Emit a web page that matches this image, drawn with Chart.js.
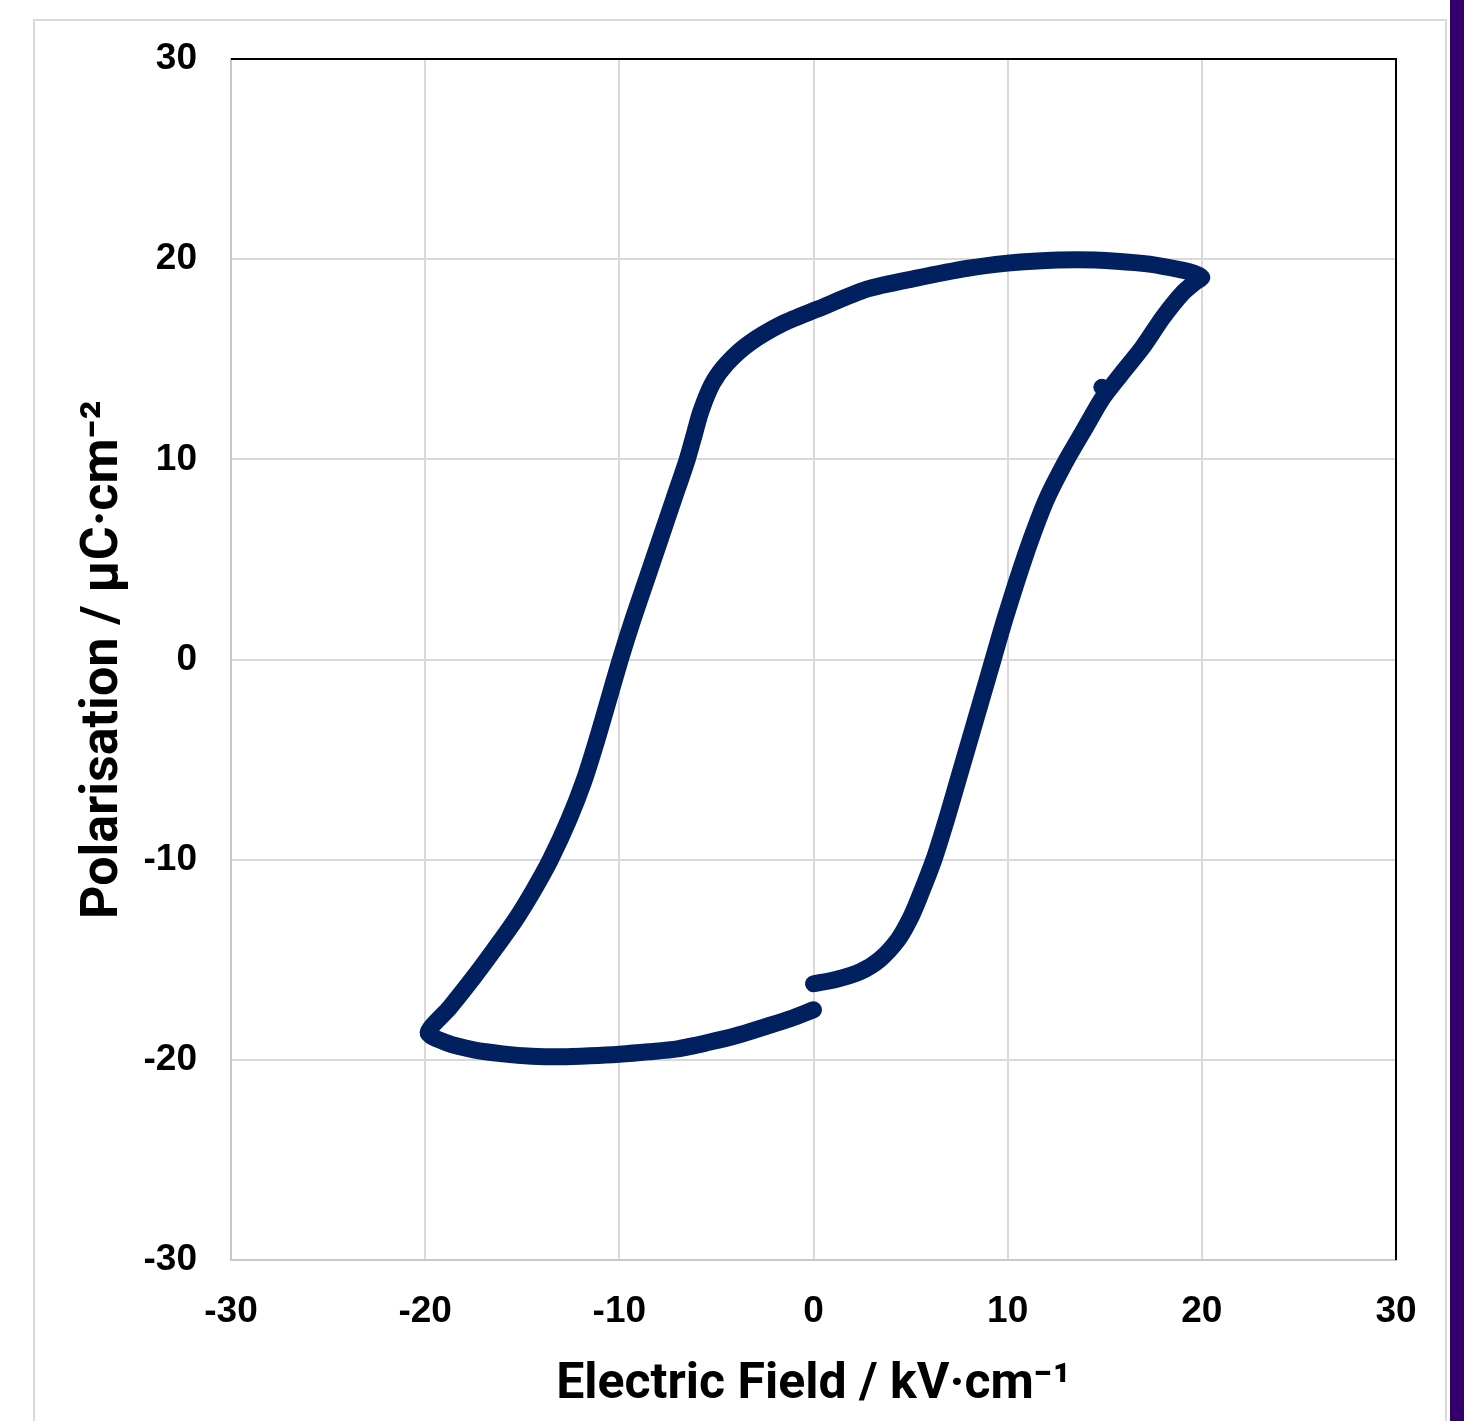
<!DOCTYPE html>
<html>
<head>
<meta charset="utf-8">
<title>P-E loop</title>
<script src="https://cdn.jsdelivr.net/npm/chart.js@4.4.1/dist/chart.umd.min.js"></script>
<style>
  html, body { margin: 0; padding: 0; background: #fff; }
  #wrap { position: relative; width: 1464px; height: 1421px; overflow: hidden; }
  #frame { position: absolute; left: 33px; top: 19px; width: 1410px; height: 1420px;
           border: 2px solid #d9d9d9; border-bottom: none; }
  #bar { position: absolute; left: 1450px; top: 0; width: 14px; height: 1421px; background: #33006a; }
  #loop { position: absolute; left: 0; top: 0; }
</style>
</head>
<body>
<div id="wrap">
  <div id="frame"></div>
  <div id="bar"></div>
  <canvas id="loop" width="1464" height="1421"></canvas>
</div>
<script>
const fieldKV = [
  // rising branch from 0
  0, 1.1, 2.4, 3.4, 4.35, 4.95, 5.4, 6.2, 6.85, 7.45, 8.05, 8.65, 9.25, 9.85,
  10.5, 11.2, 12.0, 13.05, 13.95, 14.85, 15.8, 16.95, 18.0, 19.0, 19.65, 20.0,
  // top branch going left
  19.6, 19.0, 17.3, 15.6, 13.6, 11.3, 10.0, 8.0, 5.3, 2.75, 0.2, -1.55, -3.3, -4.45,
  -5.2, -5.8, -6.15, -6.5, -7.2, -7.9, -8.6, -9.3, -9.95, -10.55, -11.15, -11.8,
  -12.6, -13.55, -14.4, -15.35, -16.45, -17.6, -18.75, -19.85,
  // bottom branch going right
  -18.9, -17.5, -16.0, -14.5, -13.0, -11.5, -10.0, -8.5, -7.0, -5.5, -4.0, -2.5, -1.2, 0
];
const polarisation = [
  -16.2, -16.0, -15.6, -15.0, -14.0, -13.0, -12.0, -10.0, -8.0, -6.0, -4.0, -2.0, 0.0, 2.0,
  4.0, 6.0, 8.0, 10.0, 11.5, 13.0, 14.2, 15.6, 17.1, 18.3, 18.85, 19.1,
  19.3, 19.45, 19.75, 19.9, 19.97, 19.9, 19.8, 19.55, 19.05, 18.5, 17.5, 16.8, 15.8, 14.8,
  13.8, 12.4, 11.2, 10.0, 8.0, 6.0, 4.0, 2.0, 0.0, -2.0, -4.0, -6.0,
  -8.0, -10.0, -11.5, -13.0, -14.5, -16.0, -17.4, -18.65,
  -19.15, -19.5, -19.7, -19.82, -19.85, -19.8, -19.72, -19.6, -19.45, -19.15, -18.8, -18.35, -17.95, -17.5
];
// single stray point sitting on the rising branch
const strayField = [14.85];
const strayPol = [13.6];

const xTicks = [-30, -20, -10, 0, 10, 20, 30];
const yTicks = [-30, -20, -10, 0, 10, 20, 30];

const navy = "#002060";
const tickFont = { family: "'Liberation Sans', Arial, sans-serif", size: 37, weight: "bold" };
const xTitleFont = { family: "Roboto, 'Liberation Sans', sans-serif", size: 50, weight: "bold" };
const yTitleFont = { family: "Roboto, 'Liberation Sans', sans-serif", size: 52, weight: "bold" };

// black lines on top and right of the plot area
const frameLines = {
  id: "frameLines",
  beforeDatasetsDraw(chart) {
    const { ctx, chartArea: a } = chart;
    ctx.save();
    ctx.strokeStyle = "#000";
    ctx.lineWidth = 2;
    ctx.beginPath();
    ctx.moveTo(a.left, a.top);
    ctx.lineTo(a.right, a.top);
    ctx.lineTo(a.right, a.bottom);
    ctx.stroke();
    ctx.restore();
  }
};

new Chart(document.getElementById("loop"), {
  type: "scatter",
  data: {
    datasets: [
      {
        label: "P-E",
        data: fieldKV.map((x, i) => ({ x, y: polarisation[i] })),
        showLine: true,
        borderColor: navy,
        backgroundColor: navy,
        borderWidth: 17,
        borderCapStyle: "round",
        borderJoinStyle: "round",
        tension: 0.25,
        pointRadius: 0
      },
      {
        label: "stray",
        data: strayField.map((x, i) => ({ x, y: strayPol[i] })),
        backgroundColor: navy,
        borderColor: navy,
        pointRadius: 8
      }
    ]
  },
  options: {
    responsive: false,
    animation: false,
    layout: { padding: { left: 40, top: 59, right: 68, bottom: 6 } },
    plugins: { legend: { display: false }, tooltip: { enabled: false } },
    scales: {
      x: {
        type: "linear",
        min: -30, max: 30,
        afterBuildTicks: s => { s.ticks = xTicks.map(v => ({ value: v })); },
        afterFit: s => { s.height = 155; },
        grid: { color: "#d9d9d9", lineWidth: 2, drawTicks: false },
        border: { color: "#c8c8c8", width: 2 },
        ticks: { color: "#000", font: tickFont, padding: 30, maxRotation: 0 },
        title: { display: true, text: "Electric Field / kV·cm⁻¹", color: "#000", font: xTitleFont, padding: { top: 0, bottom: 0 } }
      },
      y: {
        type: "linear",
        min: -30, max: 30,
        afterBuildTicks: s => { s.ticks = yTicks.map(v => ({ value: v })); },
        afterFit: s => { s.width = 191; },
        grid: { color: "#d9d9d9", lineWidth: 2, drawTicks: false },
        border: { color: "#c8c8c8", width: 2 },
        ticks: { color: "#000", font: tickFont, padding: 34 },
        title: { display: true, text: "Polarisation / μC·cm⁻²", color: "#000", font: yTitleFont, padding: { top: 33, bottom: 0 } }
      }
    }
  },
  plugins: [frameLines]
});
</script>
</body>
</html>
